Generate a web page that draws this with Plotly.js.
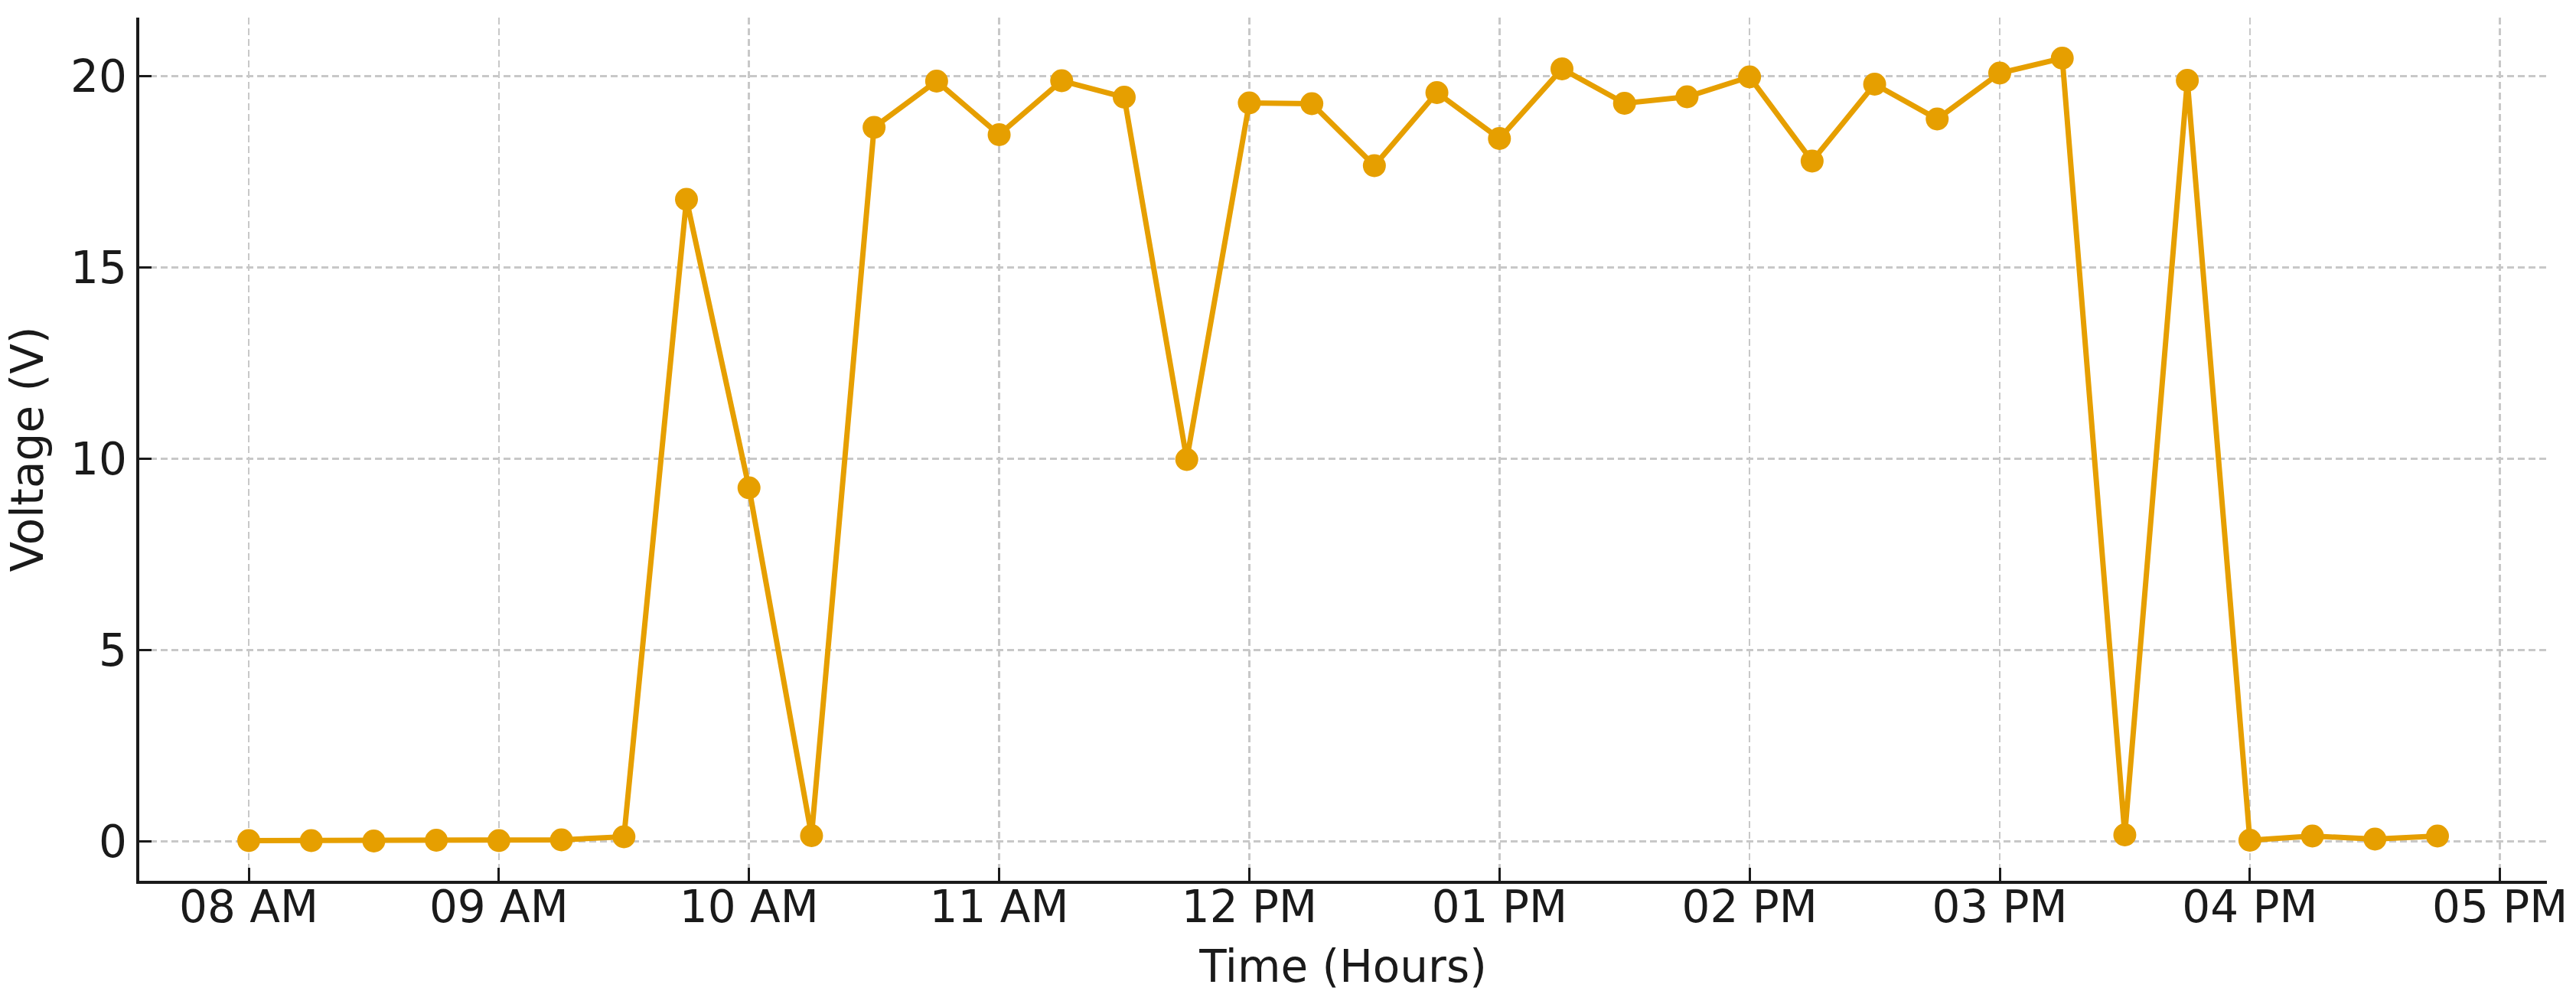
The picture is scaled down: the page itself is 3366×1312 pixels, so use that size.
<!DOCTYPE html>
<html>
<head>
<meta charset="utf-8">
<script src="https://cdn.plot.ly/plotly-3.0.1.min.js"></script>
<style>
  html, body { margin: 0; padding: 0; background: #ffffff; }
  #chart { width: 3366px; height: 1312px; }
</style>
</head>
<body>
<div id="chart"></div>
<script>
const day = '2024-01-01';
const times = [
  '08:00','08:15','08:30','08:45','09:00','09:15','09:30','09:45',
  '10:00','10:15','10:30','10:45','11:00','11:15','11:30','11:45',
  '12:00','12:15','12:30','12:45','13:00','13:15','13:30','13:45',
  '14:00','14:15','14:30','14:45','15:00','15:15','15:30','15:45',
  '16:00','16:15','16:30','16:45'
];
const voltage = [
  0.02, 0.02, 0.01, 0.03, 0.02, 0.04, 0.12, 16.78,
  9.24, 0.15, 18.66, 19.87, 18.47, 19.88, 19.45, 9.98,
  19.30, 19.28, 17.66, 19.57, 18.37, 20.19, 19.29, 19.46,
  19.98, 17.78, 19.79, 18.88, 20.08, 20.47, 0.17, 19.89,
  0.03, 0.14, 0.06, 0.14
];
const xTitle = 'Time (Hours)';
const yTitle = 'Voltage (V)';

const xs = times.map(t => day + ' ' + t + ':00');

const font = { family: 'DejaVu Sans, sans-serif', size: 58, color: '#1a1a1a' };

const trace = {
  x: xs,
  y: voltage,
  type: 'scatter',
  mode: 'lines+markers',
  line: { color: '#E69F00', width: 7 },
  marker: { color: '#E69F00', size: 30 },
  showlegend: false,
  hoverinfo: 'x+y'
};

const layout = {
  width: 3366,
  height: 1312,
  margin: { l: 182, r: 38, t: 23, b: 161, pad: 0 },
  paper_bgcolor: '#ffffff',
  plot_bgcolor: '#ffffff',
  font: font,
  showlegend: false,
  xaxis: {
    type: 'date',
    range: [day + ' 07:33:45', day + ' 17:11:15'],
    tick0: day + ' 08:00:00',
    dtick: 3600000,
    tickformat: '%I %p',
    ticks: 'inside',
    ticklen: 17,
    tickwidth: 3,
    tickcolor: '#1a1a1a',
    ticklabelstandoff: -20,
    showline: true,
    linecolor: '#1a1a1a',
    linewidth: 4,
    mirror: false,
    showgrid: true,
    gridcolor: '#c8c8c8',
    gridwidth: 2.5,
    griddash: '9px,5px',
    zeroline: false,
    tickfont: font,
    automargin: false,
    title: { text: xTitle, font: font, standoff: 26 }
  },
  yaxis: {
    range: [-1.03, 21.53],
    tick0: 0,
    dtick: 5,
    ticks: 'inside',
    ticklen: 16,
    tickwidth: 3,
    tickcolor: '#1a1a1a',
    showline: true,
    linecolor: '#1a1a1a',
    linewidth: 4.5,
    mirror: false,
    showgrid: true,
    gridcolor: '#c8c8c8',
    gridwidth: 2.5,
    griddash: '9px,5px',
    zeroline: false,
    tickfont: font,
    automargin: false,
    title: { text: yTitle, font: font, standoff: 18 }
  }
};

Plotly.newPlot('chart', [trace], layout, { staticPlot: true, displayModeBar: false });
</script>
</body>
</html>
